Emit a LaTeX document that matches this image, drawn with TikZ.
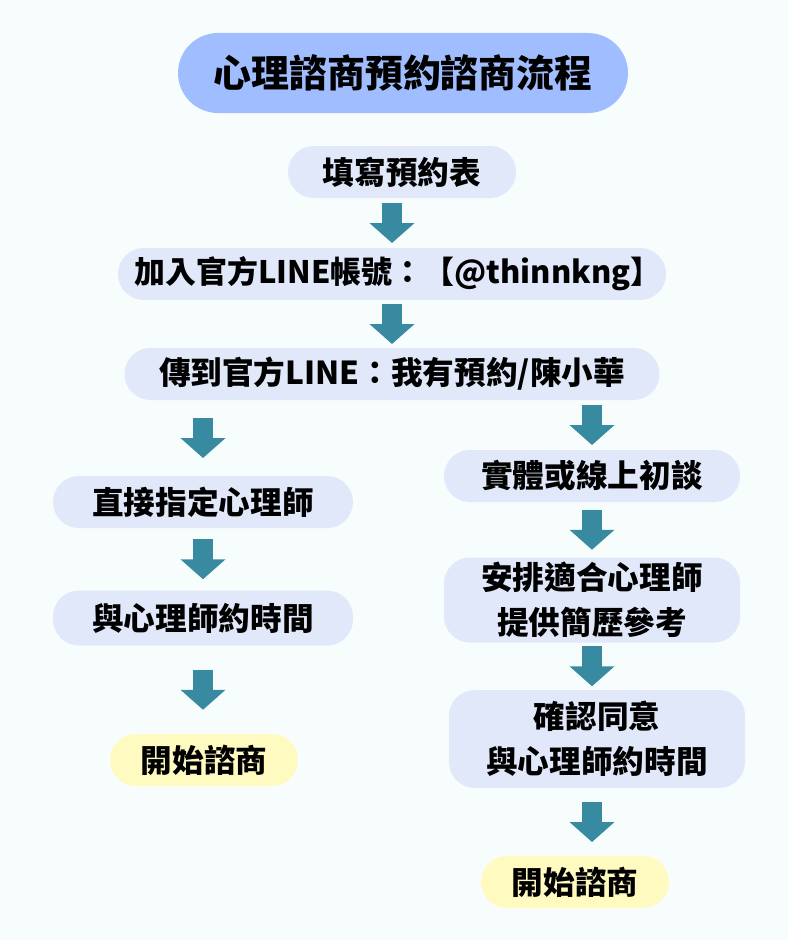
\documentclass[tikz,border=0pt]{standalone}
\usepackage{fontspec}
\setmainfont{Noto Sans CJK TC}
\usepackage{tikz}
\usetikzlibrary{arrows.meta, positioning, calc}
\definecolor{pagebg}{RGB}{247, 253, 253}
\definecolor{titleblue}{RGB}{160, 190, 255}
\definecolor{stepblue}{RGB}{224, 232, 250}
\definecolor{startyellow}{RGB}{255, 250, 192}
\definecolor{arrowteal}{RGB}{56, 138, 160}
\tikzset{
    titlebox/.style={rectangle, rounded corners=1cm, minimum width=11.25cm, minimum height=2cm, align=center, fill=titleblue, font=\fontsize{27}{32}\selectfont\bfseries},
    stepbox/.style={rectangle, rounded corners=0.65cm, minimum height=1.3cm, align=center, fill=stepblue, font=\fontsize{22.5}{32}\selectfont\bfseries},
    startbox/.style={stepbox, fill=startyellow, minimum width=4.7cm},
    flowarrow/.style={line width=0.5cm, draw=arrowteal, -{Triangle[width=1.1cm,length=0.5cm]}}
}
\begin{document}
\begin{tikzpicture}
        \fill[pagebg] (0,0) rectangle (19.7,-23.5);
        \useasboundingbox (0,0) rectangle (19.7,-23.5);

        % Title
        \node[titlebox] (title) at (10.075, -1.825) {心理諮商預約諮商流程};

        % Common steps
        \node[stepbox, minimum width=5.7cm] (fill) at (10.05, -4.3) {填寫預約表};
        \node[stepbox, minimum width=13.375cm, font=\fontsize{22}{32}\selectfont\bfseries] (line) at (9.8, -6.85) {\hspace*{0.3cm}加入官方LINE帳號：【@thinnkng】};
        \node[stepbox, minimum width=13.375cm] (send) at (9.8, -9.35) {傳到官方LINE：我有預約/陳小華};

        % Left branch
        \node[stepbox, minimum width=7.5cm] (direct) at (5.075, -12.55) {直接指定心理師};
        \node[stepbox, minimum width=7.5cm, minimum height=1.375cm] (meetL) at (5.075, -15.45) {與心理師約時間};
        \node[startbox] (startL) at (5.1, -19.0) {開始諮商};

        % Right branch
        \node[stepbox, minimum width=7.4cm] (intake) at (14.8, -11.9) {實體或線上初談};
        \node[stepbox, minimum width=7.4cm, minimum height=2.125cm] (assign) at (14.8, -15.0) {安排適合心理師\\提供簡歷參考};
        \node[stepbox, minimum width=7.4cm, minimum height=2.45cm] (confirm) at (14.925, -18.475) {確認同意\\與心理師約時間};
        \node[startbox] (startR) at (14.375, -22.05) {開始諮商};

        % Arrows between steps
        \draw[flowarrow] ($(fill.south -| line)!0.5!(line.north)$) ++(0,0.5) -- ++(0,-1);
        \draw[flowarrow] ($(line.south)!0.5!(send.north)$) ++(0,0.5) -- ++(0,-1);
        \draw[flowarrow] ($(send.south -| direct)!0.5!(direct.north)$) ++(0,0.5) -- ++(0,-1);
        \draw[flowarrow] ($(direct.south)!0.5!(meetL.north)$) ++(0,0.5) -- ++(0,-1);
        \draw[flowarrow] ($(meetL.south)!0.5!(startL.north -| meetL)$) ++(0,0.5) -- ++(0,-1);
        \draw[flowarrow] ($(send.south -| intake)!0.5!(intake.north)$) ++(0,0.5) -- ++(0,-1);
        \draw[flowarrow] ($(intake.south)!0.5!(assign.north)$) ++(0,0.5) -- ++(0,-1);
        \draw[flowarrow] ($(assign.south)!0.5!(confirm.north -| assign)$) ++(0,0.5) -- ++(0,-1);
        \draw[flowarrow] ($(confirm.south -| assign)!0.5!(startR.north -| assign)$) ++(0,0.5) -- ++(0,-1);
    \end{tikzpicture}
\end{document}
